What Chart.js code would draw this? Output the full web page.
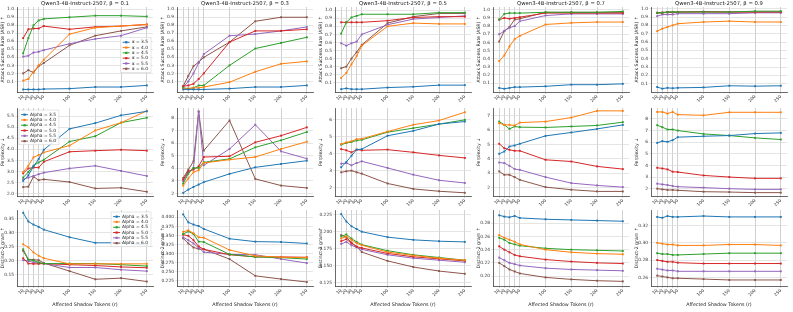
<!DOCTYPE html>
<html>
<head>
<meta charset="utf-8">
<script src="https://cdn.jsdelivr.net/npm/chart.js@4.4.1/dist/chart.umd.min.js"></script>
<style>
  html, body { margin: 0; padding: 0; background: #fff; }
  #fig { position: relative; width: 793px; height: 312px; overflow: hidden; }
  #fig canvas { position: absolute; }
</style>
</head>
<body>
<div id="fig"></div>
<script>
// x values (affected shadow tokens) and series names
const tokens = [10, 20, 30, 40, 50, 100, 150, 200, 250];
const betas = ['0.1', '0.3', '0.5', '0.7', '0.9'];
const alphas = ['3.5', '4.0', '4.5', '5.0', '5.5', '6.0'];

// row 1: attack success rate, one array per alpha
const asrBeta01 = [
  [0.00, 0.00, 0.00, 0.00, 0.005, 0.01, 0.03, 0.03, 0.05],
  [0.11, 0.13, 0.22, 0.30, 0.37, 0.69, 0.77, 0.79, 0.81],
  [0.45, 0.64, 0.80, 0.86, 0.88, 0.90, 0.92, 0.92, 0.91],
  [0.64, 0.75, 0.76, 0.76, 0.79, 0.75, 0.78, 0.79, 0.81],
  [0.41, 0.42, 0.46, 0.47, 0.49, 0.57, 0.63, 0.67, 0.77],
  [0.20, 0.24, 0.21, 0.29, 0.33, 0.55, 0.67, 0.73, 0.78]
];
const asrBeta03 = [
  [0.00, 0.00, 0.00, 0.00, 0.00, 0.01, 0.03, 0.03, 0.05],
  [0.01, 0.01, 0.02, 0.02, 0.03, 0.09, 0.22, 0.32, 0.35],
  [0.02, 0.01, 0.02, 0.05, 0.05, 0.30, 0.51, 0.58, 0.65],
  [0.04, 0.05, 0.07, 0.13, 0.20, 0.59, 0.73, 0.73, 0.75],
  [0.03, 0.10, 0.20, 0.33, 0.44, 0.67, 0.69, 0.73, 0.78],
  [0.04, 0.17, 0.29, 0.34, 0.40, 0.59, 0.85, 0.90, 0.90]
];
const asrBeta05 = [
  [0.02, 0.03, 0.02, 0.02, 0.02, 0.04, 0.05, 0.07, 0.07],
  [0.16, 0.22, 0.33, 0.43, 0.56, 0.80, 0.84, 0.83, 0.83],
  [0.71, 0.85, 0.91, 0.93, 0.95, 0.95, 0.95, 0.97, 0.97],
  [0.85, 0.85, 0.85, 0.85, 0.85, 0.87, 0.91, 0.92, 0.92],
  [0.59, 0.56, 0.59, 0.61, 0.70, 0.82, 0.89, 0.91, 0.93],
  [0.28, 0.30, 0.40, 0.48, 0.57, 0.84, 0.92, 0.96, 0.96]
];
const asrBeta07 = [
  [0.04, 0.03, 0.04, 0.05, 0.05, 0.06, 0.08, 0.08, 0.09],
  [0.37, 0.44, 0.55, 0.64, 0.68, 0.82, 0.84, 0.85, 0.85],
  [0.88, 0.95, 0.96, 0.96, 0.96, 0.97, 0.97, 0.97, 0.98],
  [0.88, 0.90, 0.89, 0.90, 0.91, 0.96, 0.96, 0.96, 0.96],
  [0.70, 0.74, 0.78, 0.80, 0.86, 0.93, 0.95, 0.95, 0.95],
  [0.61, 0.74, 0.79, 0.88, 0.89, 0.97, 0.97, 0.97, 0.97]
];
const asrBeta09 = [
  [0.06, 0.04, 0.05, 0.045, 0.05, 0.055, 0.075, 0.07, 0.075],
  [0.73, 0.76, 0.78, 0.80, 0.82, 0.84, 0.85, 0.84, 0.84],
  [0.95, 0.95, 0.96, 0.96, 0.96, 0.96, 0.96, 0.97, 0.97],
  [0.95, 0.95, 0.955, 0.955, 0.96, 0.96, 0.96, 0.96, 0.96],
  [0.91, 0.93, 0.93, 0.93, 0.94, 0.94, 0.94, 0.95, 0.95],
  [0.95, 0.955, 0.96, 0.96, 0.96, 0.965, 0.96, 0.96, 0.96]
];

// row 2: perplexity
const pplBeta01 = [
  [2.58, 2.83, 3.23, 3.56, 3.98, 4.92, 5.18, 5.53, 5.71],
  [2.98, 3.26, 3.64, 3.74, 3.86, 4.17, 4.85, 5.20, 5.73],
  [2.73, 2.98, 3.26, 3.41, 3.53, 4.35, 4.59, 5.20, 5.42],
  [2.92, 3.14, 3.18, 3.18, 3.44, 3.89, 3.94, 3.98, 3.94],
  [2.65, 2.73, 2.80, 2.88, 2.95, 3.14, 3.26, 3.03, 2.80],
  [2.30, 2.32, 2.77, 2.61, 2.65, 2.53, 2.24, 2.27, 2.09]
];
const pplBeta03 = [
  [2.05, 2.31, 2.52, 2.71, 2.90, 3.56, 4.08, 4.35, 4.61],
  [2.63, 3.20, 3.69, 3.85, 4.43, 4.69, 4.90, 5.54, 6.12],
  [2.79, 3.58, 4.03, 4.03, 4.48, 4.75, 5.67, 6.23, 6.89],
  [3.10, 3.77, 3.90, 4.16, 4.90, 4.96, 6.07, 6.60, 7.26],
  [2.97, 3.69, 4.03, 8.50, 4.24, 5.54, 7.47, 5.35, 4.77],
  [3.24, 3.90, 4.56, 8.53, 5.41, 7.81, 3.16, 2.63, 2.44]
];
const pplBeta05 = [
  [3.20, 3.51, 3.88, 4.24, 4.27, 5.06, 5.35, 5.75, 5.90],
  [4.57, 4.67, 4.73, 4.86, 4.88, 5.31, 5.71, 5.96, 6.45],
  [4.53, 4.63, 4.69, 4.78, 4.82, 5.27, 5.51, 5.75, 6.00],
  [4.27, 4.20, 4.08, 4.24, 4.20, 4.24, 4.08, 3.90, 3.75],
  [3.41, 3.45, 3.31, 3.45, 3.55, 3.16, 2.76, 2.43, 2.27],
  [2.90, 2.96, 3.00, 2.90, 2.82, 2.24, 1.92, 1.78, 1.69]
];
const pplBeta07 = [
  [4.35, 4.51, 4.86, 4.93, 5.05, 5.60, 5.84, 6.09, 6.37],
  [6.49, 6.37, 6.37, 6.33, 6.53, 6.60, 6.88, 7.35, 7.35],
  [6.60, 6.37, 6.09, 6.26, 6.21, 6.19, 6.26, 6.33, 6.56],
  [5.05, 4.74, 4.63, 4.56, 4.56, 3.93, 3.81, 3.47, 3.28],
  [3.74, 3.70, 3.51, 3.28, 3.23, 2.72, 2.30, 2.14, 2.02],
  [3.12, 2.88, 2.88, 2.72, 2.53, 2.02, 1.84, 1.72, 1.72]
];
const pplBeta09 = [
  [5.94, 6.09, 6.03, 6.17, 6.43, 6.51, 6.57, 6.74, 6.80],
  [8.60, 8.60, 8.46, 8.60, 8.37, 8.31, 8.57, 8.57, 8.57],
  [7.46, 7.29, 7.09, 7.09, 7.00, 6.71, 6.57, 6.37, 6.23],
  [3.80, 3.74, 3.66, 3.46, 3.43, 3.14, 3.00, 2.89, 2.89],
  [2.43, 2.37, 2.31, 2.23, 2.17, 2.09, 2.00, 1.94, 1.94],
  [2.00, 1.94, 1.89, 1.89, 1.86, 1.74, 1.71, 1.66, 1.66]
];

// row 3: distinct-2
const distBeta01 = [
  [0.371, 0.340, 0.329, 0.321, 0.311, 0.284, 0.264, 0.264, 0.256],
  [0.259, 0.248, 0.230, 0.218, 0.209, 0.189, 0.189, 0.189, 0.189],
  [0.241, 0.204, 0.201, 0.194, 0.190, 0.190, 0.190, 0.186, 0.181],
  [0.209, 0.190, 0.189, 0.189, 0.190, 0.186, 0.183, 0.178, 0.175],
  [0.202, 0.199, 0.194, 0.192, 0.190, 0.176, 0.176, 0.168, 0.163],
  [0.235, 0.204, 0.204, 0.202, 0.192, 0.163, 0.134, 0.138, 0.126]
];
const distBeta03 = [
  [0.408, 0.386, 0.380, 0.376, 0.368, 0.341, 0.333, 0.332, 0.328],
  [0.360, 0.364, 0.356, 0.345, 0.344, 0.310, 0.294, 0.290, 0.289],
  [0.354, 0.361, 0.354, 0.333, 0.332, 0.298, 0.291, 0.289, 0.285],
  [0.352, 0.349, 0.337, 0.320, 0.312, 0.297, 0.291, 0.291, 0.290],
  [0.345, 0.337, 0.328, 0.316, 0.304, 0.298, 0.297, 0.285, 0.274],
  [0.342, 0.328, 0.317, 0.313, 0.312, 0.285, 0.239, 0.230, 0.222]
];
const distBeta05 = [
  [0.226, 0.215, 0.208, 0.204, 0.200, 0.192, 0.188, 0.186, 0.185],
  [0.190, 0.193, 0.188, 0.183, 0.180, 0.170, 0.165, 0.161, 0.158],
  [0.193, 0.196, 0.190, 0.185, 0.181, 0.172, 0.166, 0.162, 0.158],
  [0.186, 0.189, 0.183, 0.178, 0.176, 0.168, 0.163, 0.160, 0.157],
  [0.182, 0.185, 0.180, 0.177, 0.174, 0.166, 0.161, 0.158, 0.155],
  [0.195, 0.192, 0.184, 0.178, 0.170, 0.157, 0.148, 0.142, 0.138]
];
const distBeta07 = [
  [0.292, 0.290, 0.289, 0.291, 0.288, 0.286, 0.285, 0.284, 0.283],
  [0.262, 0.258, 0.255, 0.252, 0.248, 0.240, 0.236, 0.234, 0.233],
  [0.258, 0.255, 0.250, 0.248, 0.246, 0.242, 0.240, 0.239, 0.238],
  [0.245, 0.240, 0.236, 0.232, 0.230, 0.225, 0.222, 0.220, 0.219],
  [0.228, 0.224, 0.220, 0.218, 0.216, 0.212, 0.210, 0.209, 0.208],
  [0.220, 0.215, 0.210, 0.207, 0.204, 0.198, 0.195, 0.193, 0.192]
];
const distBeta09 = [
  [0.330, 0.329, 0.331, 0.330, 0.330, 0.331, 0.330, 0.330, 0.330],
  [0.300, 0.299, 0.298, 0.298, 0.297, 0.297, 0.298, 0.298, 0.297],
  [0.288, 0.287, 0.287, 0.286, 0.286, 0.287, 0.288, 0.288, 0.288],
  [0.280, 0.279, 0.278, 0.278, 0.277, 0.276, 0.276, 0.276, 0.276],
  [0.270, 0.269, 0.268, 0.268, 0.267, 0.267, 0.267, 0.267, 0.267],
  [0.262, 0.261, 0.260, 0.259, 0.259, 0.258, 0.257, 0.257, 0.257]
];

// y tick values per panel
const asrTicks = [0.1, 0.2, 0.3, 0.4, 0.5, 0.6, 0.7, 0.8, 0.9, 1.0];
const pplTicks = [
  [2.0, 2.5, 3.0, 3.5, 4.0, 4.5, 5.0, 5.5],
  [2, 3, 4, 5, 6, 7, 8],
  [2, 3, 4, 5, 6],
  [2, 3, 4, 5, 6, 7],
  [2, 3, 4, 5, 6, 7, 8]
];
const distTicks = [
  [0.15, 0.20, 0.25, 0.30, 0.35],
  [0.225, 0.250, 0.275, 0.300, 0.325, 0.350, 0.375, 0.400],
  [0.125, 0.150, 0.175, 0.200, 0.225],
  [0.20, 0.22, 0.24, 0.26, 0.28],
  [0.26, 0.28, 0.30, 0.32]
];

const colors = ['#1f77b4', '#ff7f0e', '#2ca02c', '#d62728', '#9467bd', '#8c564b'];
const FONT = '"DejaVu Sans", sans-serif';

// layout of the grid
const colLeft = [17, 177, 335, 493, 651];
const plotW = 137;
const rows = [
  { top: 0, h: 104, padTop: 7, xH: 12, yTitle: 'Attack Success Rate (ASR) \u2191',
    data: [asrBeta01, asrBeta03, asrBeta05, asrBeta07, asrBeta09],
    ranges: [[-0.032, 1.028], [-0.032, 1.028], [-0.015, 1.04], [-0.01, 1.035], [0.0, 1.02]],
    ticks: [asrTicks, asrTicks, asrTicks, asrTicks, asrTicks], dec: [1, 1, 1, 1, 1],
    legend: { prefix: '\u03b1 = ', at: 'right' } },
  { top: 104, h: 104, padTop: 4, xH: 12, yTitle: 'Perplexity \u2193',
    data: [pplBeta01, pplBeta03, pplBeta05, pplBeta07, pplBeta09],
    ranges: [[1.9, 5.86], [1.8, 8.8], [1.5, 6.7], [1.4, 7.55], [1.37, 8.94]],
    ticks: pplTicks, dec: [1, 0, 0, 0, 0],
    legend: { prefix: 'Alpha = ', at: 'topleft' } },
  { top: 206, h: 106, padTop: 2, xH: 26, yTitle: 'Distinct-2 gram \u2191',
    data: [distBeta01, distBeta03, distBeta05, distBeta07, distBeta09],
    ranges: [[0.11, 0.381], [0.211, 0.42], [0.12, 0.232], [0.185, 0.30], [0.25, 0.338]],
    ticks: distTicks, dec: [2, 3, 3, 2, 2],
    legend: { prefix: 'Alpha = ', at: 'topright' }, xTitle: 'Affected Shadow Tokens (r)' }
];

// titles and legends drawn on top of each panel
const panelDeco = {
  id: 'panelDeco',
  afterDraw(chart, args, o) {
    const ctx = chart.ctx, a = chart.chartArea;
    ctx.save();
    if (o.title) {
      ctx.font = '5.3px ' + FONT;
      ctx.fillStyle = '#222';
      ctx.textAlign = 'center';
      ctx.textBaseline = 'bottom';
      ctx.fillText(o.title, (a.left + a.right) / 2, a.top - 0.8);
    }
    if (o.legend) {
      ctx.font = '4.4px ' + FONT;
      const labels = alphas.map(s => o.legend.prefix + s);
      const tw = Math.max(...labels.map(l => ctx.measureText(l).width));
      const rowH = 5.3, w = tw + 14, h = rowH * labels.length + 3;
      let x, y;
      if (o.legend.at === 'right') { x = a.right - w - 2; y = a.top + (a.bottom - a.top) * 0.36; }
      else if (o.legend.at === 'topleft') { x = a.left + 2; y = a.top + 2; }
      else { x = a.right - w - 2; y = a.top + 2; }
      ctx.fillStyle = 'rgba(255,255,255,0.85)';
      ctx.strokeStyle = '#ccc';
      ctx.lineWidth = 0.5;
      ctx.fillRect(x, y, w, h);
      ctx.strokeRect(x, y, w, h);
      labels.forEach((l, i) => {
        const cy = y + 2 + rowH * i + rowH / 2;
        ctx.strokeStyle = colors[i];
        ctx.lineWidth = 1;
        ctx.beginPath(); ctx.moveTo(x + 2, cy); ctx.lineTo(x + 9, cy); ctx.stroke();
        ctx.fillStyle = colors[i];
        ctx.fillRect(x + 4.5, cy - 1.1, 2.2, 2.2);
        ctx.fillStyle = '#222';
        ctx.textAlign = 'left';
        ctx.textBaseline = 'middle';
        ctx.fillText(l, x + 11, cy);
      });
    }
    ctx.restore();
  }
};

const fig = document.getElementById('fig');

rows.forEach((row, r) => {
  for (let c = 0; c < 5; c++) {
    const cv = document.createElement('canvas');
    const w = 17 + plotW + 3;
    cv.width = w; cv.height = row.h;
    cv.style.left = (colLeft[c] - 17) + 'px';
    cv.style.top = row.top + 'px';
    cv.style.width = w + 'px';
    cv.style.height = row.h + 'px';
    fig.appendChild(cv);

    const datasets = row.data[c].map((vals, i) => ({
      label: row.legend.prefix + alphas[i],
      data: tokens.map((t, k) => ({ x: t, y: vals[k] })),
      borderColor: colors[i],
      backgroundColor: colors[i],
      borderWidth: 1,
      pointRadius: 1.35,
      pointStyle: 'rect',
      pointBorderWidth: 0,
      tension: 0
    }));

    const yTicks = row.ticks[c];
    const dec = row.dec[c];

    new Chart(cv, {
      type: 'line',
      data: { datasets },
      plugins: [panelDeco],
      options: {
        responsive: false,
        animation: false,
        devicePixelRatio: 1,
        layout: { padding: { top: row.padTop, right: 3, left: 0, bottom: 0 } },
        plugins: {
          legend: { display: false },
          tooltip: { enabled: false },
          panelDeco: {
            title: r === 0 ? 'Qwen3-4B-Instruct-2507, \u03b2 = ' + betas[c] : null,
            legend: c === 0 ? row.legend : null
          }
        },
        scales: {
          x: {
            type: 'linear',
            min: -2, max: 262,
            afterBuildTicks: s => { s.ticks = tokens.map(v => ({ value: v })); },
            afterFit: s => { s.height = row.xH; },
            ticks: {
              autoSkip: false, minRotation: 45, maxRotation: 45, padding: 0,
              font: { family: FONT, size: 4.4 }, color: '#333',
              callback: v => String(v)
            },
            grid: { color: '#bdbdbd', lineWidth: 0.7, tickLength: 2 },
            border: { color: '#444', width: 0.8 },
            title: {
              display: !!row.xTitle, text: row.xTitle || '',
              font: { family: FONT, size: 4.8 }, color: '#222', padding: { top: 0, bottom: 4 }
            }
          },
          y: {
            min: row.ranges[c][0], max: row.ranges[c][1],
            afterBuildTicks: s => { s.ticks = yTicks.map(v => ({ value: v })); },
            afterFit: s => { s.width = 17; },
            ticks: {
              padding: 1, font: { family: FONT, size: 4.4 }, color: '#333',
              callback: v => v.toFixed(dec)
            },
            grid: { color: '#dadada', lineWidth: 0.7, tickLength: 2 },
            border: { color: '#444', width: 0.8 },
            title: {
              display: true, text: row.yTitle,
              font: { family: FONT, size: 4.6 }, color: '#222', padding: 0
            }
          }
        }
      }
    });
  }
});
</script>
</body>
</html>
